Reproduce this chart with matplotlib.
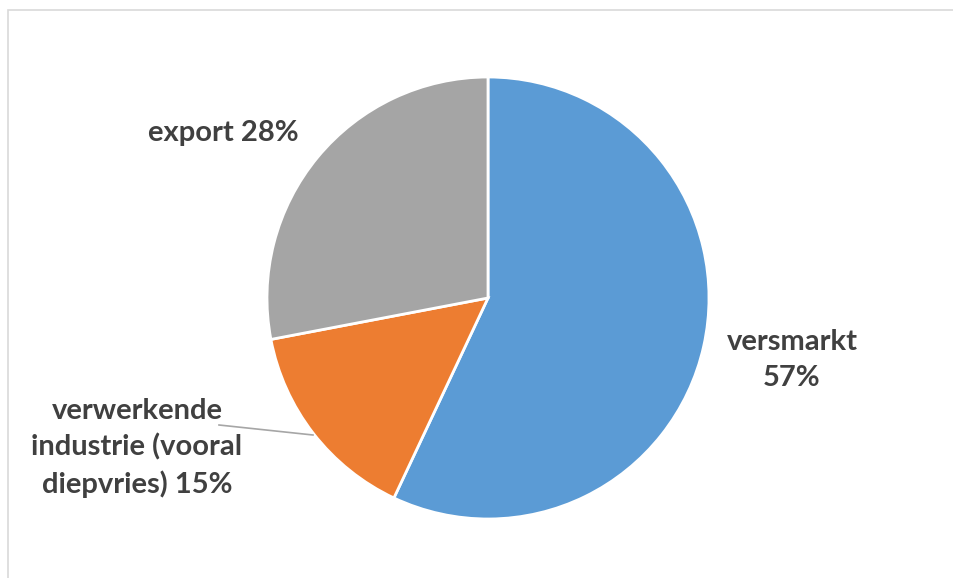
import matplotlib.pyplot as plt
from matplotlib.patches import Rectangle

# data
labels = ["versmarkt\n57%", "verwerkende\nindustrie (vooral\ndiepvries) 15%", "export 28%"]
shares = [57, 15, 28]
colors = ["#5B9BD5", "#ED7D31", "#A5A5A5"]

W, H = 954, 578
fig = plt.figure(figsize=(W / 100, H / 100), dpi=100)
ax = fig.add_axes([0, 0, 1, 1])

# chart area border
ax.add_patch(Rectangle((8, -5), W, H - 10 + 5, fill=False, edgecolor="#D9D9D9", lw=1.2))

cx, cy, r = 488, H - 298, 221
ax.pie(shares, colors=colors, startangle=90, counterclock=False,
       center=(cx, cy), radius=r, frame=True,
       wedgeprops=dict(edgecolor="white", linewidth=2))
ax.set_xlim(0, W)
ax.set_ylim(0, H)
ax.set_aspect("equal")
ax.axis("off")

txt = dict(fontsize=21, fontweight="bold", color="#404040", family="Lato",
           ha="center", va="center", linespacing=1.45)
ax.text(792, H - 360, labels[0], **txt)
ax.text(137, H - 448, labels[1], **txt)
ax.text(223, H - 133, labels[2], **txt)

# leader line
ax.plot([219, 313], [H - 425, H - 435], color="#A6A6A6", lw=1.2)

fig.savefig("out.png", dpi=100)
